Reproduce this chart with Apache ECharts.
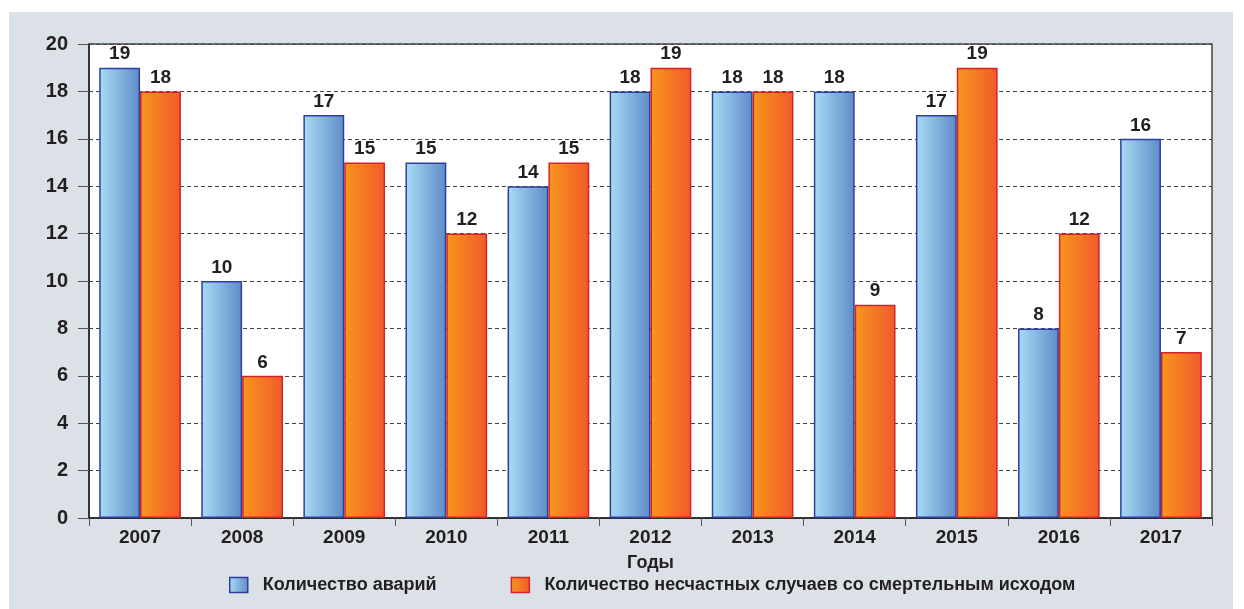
<!DOCTYPE html>
<html><head><meta charset="utf-8">
<script src="https://cdn.jsdelivr.net/npm/echarts@6/dist/echarts.min.js"></script>
<style>html,body{margin:0;padding:0;background:#fff}#c{width:1244px;height:609px}</style>
</head><body><div id="c"></div>
<script>
var years = ['2007','2008','2009','2010','2011','2012','2013','2014','2015','2016','2017'];
var accidents = [19,10,17,15,14,18,18,18,17,8,16];
var fatalities = [18,6,15,12,15,19,18,9,19,12,7];
var seriesNames = ['Количество аварий','Количество несчастных случаев со смертельным исходом'];
var axisTitle = 'Годы';

var FONT = '"Liberation Sans", Arial, sans-serif';
var chart = echarts.init(document.getElementById('c'), null, {renderer:'canvas'});
var blueGrad = new echarts.graphic.LinearGradient(0,0,1,0,[{offset:0,color:'#a9dcf5'},{offset:1,color:'#5e8bc7'}]);
var orangeGrad = new echarts.graphic.LinearGradient(0,0,1,0,[{offset:0,color:'#f7961d'},{offset:1,color:'#f15a2b'}]);
var labelStyle = {show:true, position:'top', distance:4, color:'#231f20', fontFamily:FONT, fontWeight:'bold', fontSize:19};
chart.setOption({
  animation:false,
  graphic:[{type:'rect', z:-10, shape:{x:9,y:12,width:1224,height:600}, style:{fill:'#dbe1e7'}}],
  grid:{left:89,right:32,top:44,bottom:91,show:true,backgroundColor:'#fff',borderColor:'#444',borderWidth:1.5},
  legend:{bottom:10,left:224,icon:'rect',itemWidth:18,itemHeight:15,itemGap:74,
    textStyle:{fontFamily:FONT,fontWeight:'bold',fontSize:18,color:'#231f20',padding:[0,0,0,10]},
    data:[{name:seriesNames[0],itemStyle:{color:blueGrad,borderColor:'#2f3fa0',borderWidth:1.5}},
          {name:seriesNames[1],itemStyle:{color:orangeGrad,borderColor:'#d2232a',borderWidth:1.5}}]},
  xAxis:{type:'category',data:years,name:axisTitle,nameLocation:'middle',nameGap:36,
    nameTextStyle:{fontFamily:FONT,fontWeight:'bold',fontSize:18,color:'#231f20'},
    axisLine:{lineStyle:{color:'#222',width:1.5}},
    axisTick:{show:true,length:8,lineStyle:{color:'#555'}},
    axisLabel:{margin:10,fontFamily:FONT,fontWeight:'bold',fontSize:19,color:'#231f20'}},
  yAxis:{type:'value',min:0,max:20,interval:2,
    axisLine:{show:true,lineStyle:{color:'#222',width:1.5}},
    axisTick:{show:true,length:11,lineStyle:{color:'#555'}},
    axisLabel:{margin:21,fontFamily:FONT,fontWeight:'bold',fontSize:20,color:'#231f20'},
    splitLine:{show:true,lineStyle:{color:'#444',type:[4,3],width:1}}},
  series:[
    {name:seriesNames[0],type:'bar',data:accidents,barGap:'0%',barCategoryGap:'20%',
      itemStyle:{color:blueGrad,borderColor:'#2f3fa0',borderWidth:1.5},label:labelStyle},
    {name:seriesNames[1],type:'bar',data:fatalities,barGap:'0%',barCategoryGap:'20%',
      itemStyle:{color:orangeGrad,borderColor:'#d2232a',borderWidth:1.5},label:labelStyle}
  ]
});
</script></body></html>
